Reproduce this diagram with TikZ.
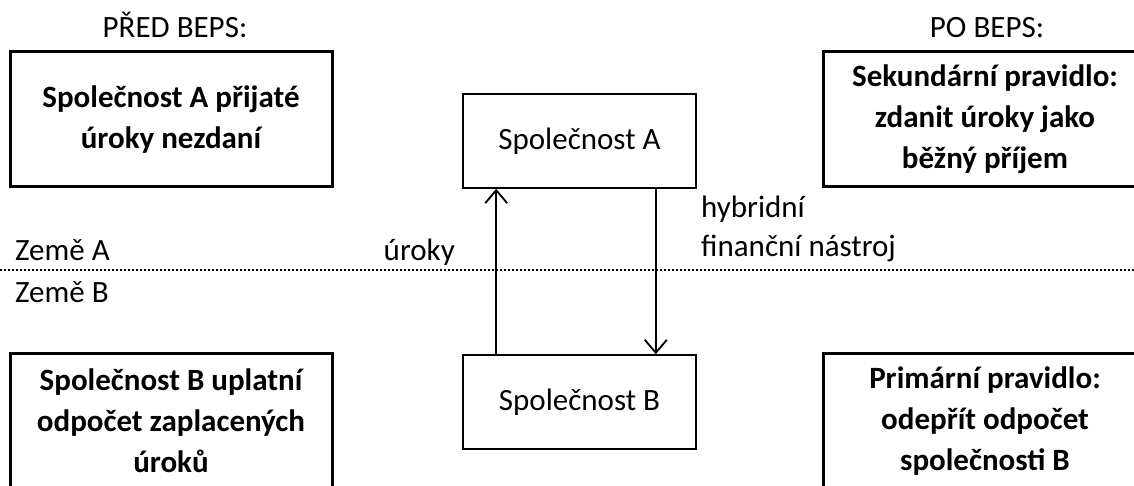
\documentclass[tikz,border=0pt]{standalone}
\usepackage{fontspec}
\setmainfont{Carlito}
\usetikzlibrary{arrows.meta}
\begin{document}
\begin{tikzpicture}[x=1pt,y=-1pt,
  txt/.style={font=\fontsize{31}{41}\selectfont, inner sep=0pt},
  rulebox/.style={draw, line width=3pt, minimum width=322pt, minimum height=135pt,
    align=center, inner sep=0pt, font=\fontsize{31}{41}\selectfont\bfseries},
  firm/.style={draw, line width=1.6pt, minimum width=233pt, minimum height=94pt,
    inner sep=0pt, font=\fontsize{31}{41}\selectfont},
  flow/.style={line width=1.8pt, -{Straight Barb[length=13pt,width=22pt,line width=1.8pt]}},
  border/.style={line width=1.5pt, dash pattern=on 2pt off 2pt}]
\useasboundingbox (0,0) rectangle (1134,486);
\clip (0,0) rectangle (1134,486);

% headings
\node[txt, anchor=base] (before) at (175,38) {PŘED BEPS:};
\node[txt, anchor=base] (after) at (987,38) {PO BEPS:};

% rule boxes
\node[rulebox] (tl) at (171,119.5) {Společnost A přijaté\\úroky nezdaní};
\node[rulebox, minimum width=324pt] (tr) at (985,119) {Sekundární pravidlo:\\zdanit úroky jako\\běžný příjem};
\node[rulebox, minimum height=136pt] (bl) at (171,421) {Společnost B uplatní\\odpočet zaplacených\\úroků};
\node[rulebox, minimum width=324pt, minimum height=136pt] (br) at (985,421) {Primární pravidlo:\\odepřít odpočet\\společnosti B};

% companies
\node[firm] (A) at (579.5,141) {Společnost A};
\node[firm] (B) at (579.5,402) {Společnost B};

% payment flows
\draw[flow] ([xshift=34pt]B.north west) -- ([xshift=34pt]A.south west);
\draw[flow] ([xshift=-41pt]A.south east) -- ([xshift=-41pt]B.north east);

% country border
\coordinate (bw) at (0,270);
\coordinate (be) at (1134,270);
\draw[border] (bw) -- (be);

% labels
\node[txt, anchor=base west] (za) at (15,260) {Země A};
\node[txt, anchor=base west] (zb) at (15,302.5) {Země B};
\node[txt, anchor=base east] (ur) at (455,261) {úroky};
\node[txt, anchor=base west] (hy) at (701,218) {hybridní};
\node[txt, anchor=base west] (fn) at (701,257) {finanční nástroj};
\end{tikzpicture}
\end{document}
